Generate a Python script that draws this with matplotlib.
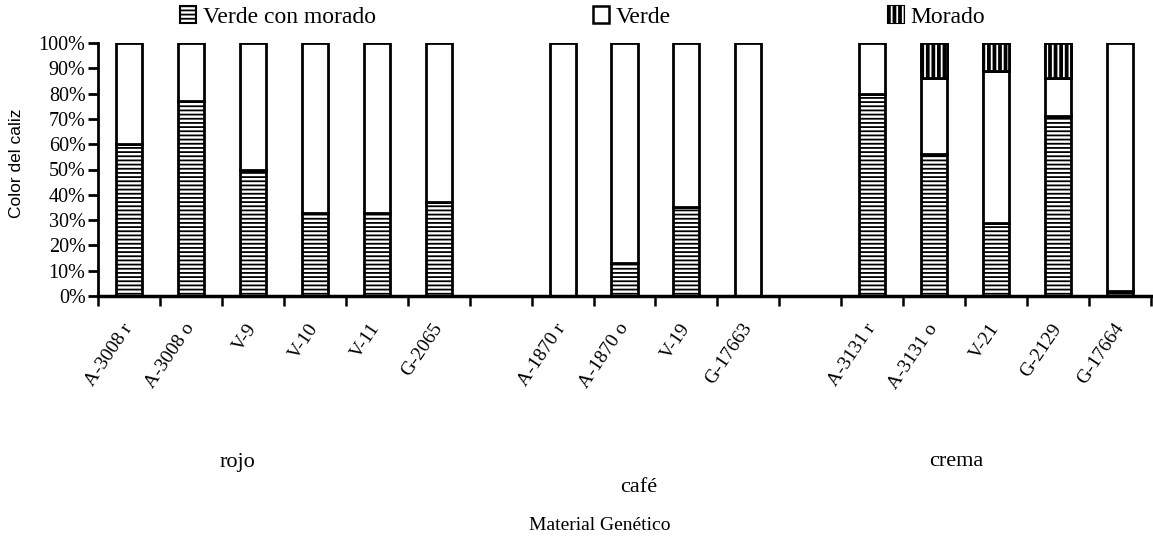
import matplotlib
matplotlib.use("Agg")
import matplotlib.pyplot as plt
from matplotlib.patches import Patch
from matplotlib.legend_handler import HandlerTuple
import numpy as np

# ---------------- data ----------------
groups = ["rojo", "café", "crema"]
materials_rojo = ["A-3008 r", "A-3008 o", "V-9", "V-10", "V-11", "G-2065"]
materials_cafe = ["A-1870 r", "A-1870 o", "V-19", "G-17663"]
materials_crema = ["A-3131 r", "A-3131 o", "V-21", "G-2129", "G-17664"]

verde_con_morado = [60, 77, 50, 33, 33, 37, 0, 13, 35, 0, 80, 56, 29, 71, 2]
verde = [40, 23, 50, 67, 67, 63, 100, 87, 65, 100, 20, 30, 60, 15, 98]
morado = [0, 0, 0, 0, 0, 0, 0, 0, 0, 0, 0, 14, 11, 14, 0]

series_names = ["Verde con morado", "Verde", "Morado"]
y_ticks = [0, 10, 20, 30, 40, 50, 60, 70, 80, 90, 100]

# ---------------- layout of slots (one empty slot between groups) ----------------
group_lists = [materials_rojo, materials_cafe, materials_crema]
positions = []
labels = []
slot = 0
for gi, lst in enumerate(group_lists):
    for name in lst:
        positions.append(slot)
        labels.append(name)
        slot += 1
    if gi < len(group_lists) - 1:
        slot += 1
n_slots = slot
positions = np.array(positions, dtype=float)
vcm = np.array(verde_con_morado, dtype=float)
ver = np.array(verde, dtype=float)
mor = np.array(morado, dtype=float)

plt.rcParams["hatch.linewidth"] = 1.3
serif = "Liberation Serif"
sans = "Liberation Sans"

W, H = 1153, 540
fig = plt.figure(figsize=(W / 100, H / 100), dpi=100)
ax = fig.add_axes([98 / W, 1 - 296 / H, (1151 - 98) / W, (296 - 43) / H])

bw = 0.42
lw = 2.0
ax.bar(positions, vcm, width=bw, facecolor="white", edgecolor="black",
       hatch="----", linewidth=lw, zorder=2)
ax.bar(positions, ver, width=bw, bottom=vcm, facecolor="white",
       edgecolor="black", linewidth=lw, zorder=2)
mask = mor > 0
ax.bar(positions[mask], mor[mask], width=bw, bottom=(vcm + ver)[mask],
       facecolor="black", edgecolor="black", linewidth=lw, zorder=2)
ax.bar(positions[mask], mor[mask], width=bw, bottom=(vcm + ver)[mask],
       facecolor="none", edgecolor="white", linewidth=0, hatch="|||", zorder=3)
ax.bar(positions[mask], mor[mask], width=bw, bottom=(vcm + ver)[mask],
       facecolor="none", edgecolor="black", linewidth=lw, zorder=4)

ax.set_xlim(-0.5, n_slots - 0.5)
ax.set_ylim(0, 100)
for s in ["top", "right"]:
    ax.spines[s].set_visible(False)
ax.spines["left"].set_linewidth(2)
ax.spines["bottom"].set_linewidth(2.5)

ax.set_yticks(y_ticks)
ax.set_yticklabels([f"{v}%" for v in y_ticks], fontfamily=serif, fontsize=14.5)
ax.tick_params(axis="y", direction="out", length=7, width=2, pad=2)

ax.set_xticks(positions)
ax.set_xticklabels(labels, rotation=56, ha="right", va="center",
                   rotation_mode="anchor", fontfamily=serif, fontsize=14)
ax.tick_params(axis="x", which="major", length=0, pad=21)
ax.set_xticks(np.arange(-0.5, n_slots, 1.0), minor=True)
ax.tick_params(axis="x", which="minor", direction="out", length=7, width=1.8)

# y axis title
fig.text(17 / W, 1 - 163 / H, "Color del caliz", rotation=90, ha="center",
         va="center", fontfamily=sans, fontsize=12.5)

# group labels and axis title
fig.text(237 / W, 1 - 462 / H, groups[0], ha="center", va="center",
         fontfamily=serif, fontsize=16)
fig.text(639 / W, 1 - 487 / H, groups[1], ha="center", va="center",
         fontfamily=serif, fontsize=16)
fig.text(956 / W, 1 - 462 / H, groups[2], ha="center", va="center",
         fontfamily=serif, fontsize=16)
fig.text(600 / W, 1 - 525 / H, "Material Genético", ha="center", va="center",
         fontfamily=serif, fontsize=14)

# legend
h_vcm = Patch(facecolor="white", edgecolor="black", hatch="----", linewidth=1.5)
h_ver = Patch(facecolor="white", edgecolor="black", linewidth=1.8)
h_mor = (Patch(facecolor="black", edgecolor="black", linewidth=1.5),
         Patch(facecolor="none", edgecolor="white", linewidth=0, hatch="|||"))
fig.legend([h_vcm, h_ver, h_mor], series_names, ncol=3, loc="center left",
           bbox_to_anchor=(180 / W, 1 - 17 / H), frameon=False, borderpad=0,
           borderaxespad=0, handlelength=0.68, handleheight=0.68,
           handletextpad=0.28, columnspacing=9.2,
           prop={"family": serif, "size": 17},
           handler_map={tuple: HandlerTuple(ndivide=1, pad=0)})

fig.savefig("out.png", dpi=100)
